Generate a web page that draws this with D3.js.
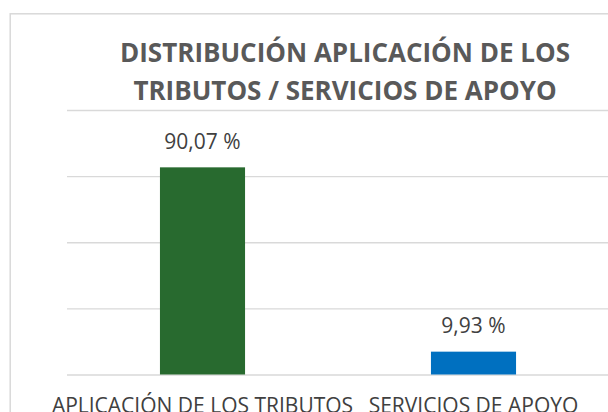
<!DOCTYPE html>
<html>
<head>
<meta charset="utf-8">
<script src="https://cdn.jsdelivr.net/npm/d3@7"></script>
<style>
  body { margin: 0; background: #fff; }
  svg { display: block; }
</style>
</head>
<body>
<div id="chart"></div>
<script>
// data
var categories = ["APLICACIÓN DE LOS TRIBUTOS", "SERVICIOS DE APOYO"];
var values = [90.07, 9.93];
var valueLabels = ["90,07 %", "9,93 %"];
var barColors = ["#286A2F", "#0070C0"];
var titleLines = ["DISTRIBUCIÓN APLICACIÓN DE LOS", "TRIBUTOS / SERVICIOS DE APOYO"];
var gridTicks = [0, 28.75, 57.5, 86.25, 115];

var width = 608,
	height = 412,
	plotLeft = 67,
	plotRight = 609,
	plotTop = 110,
	plotBottom = 374.5;

var svg = d3.select("#chart").append("svg")
	.attr("width", width)
	.attr("height", height);

// chart border (cropped at right and bottom)
svg.append("rect")
	.attr("x", 10.2)
	.attr("y", 13.8)
	.attr("width", 700)
	.attr("height", 500)
	.attr("fill", "#fff")
	.attr("stroke", "#d9d9d9")
	.attr("stroke-width", 1.5);

var xScale = d3.scaleBand()
	.domain(categories)
	.range([plotLeft, plotRight])
	.paddingInner(0.686)
	.paddingOuter(0.343);

var yScale = d3.scaleLinear()
	.domain([0, 115])
	.range([plotBottom, plotTop]);

// gridlines
var yAxis = d3.axisLeft(yScale)
	.tickValues(gridTicks)
	.tickSize(-(width - plotLeft))
	.tickFormat("");

svg.append("g")
	.attr("class", "grid")
	.attr("transform", `translate(${plotLeft},0)`)
	.call(yAxis)
	.call(function(g) {
		g.select(".domain").remove();
		g.selectAll("line").attr("stroke", "#d9d9d9").attr("stroke-width", 1.4);
	});

// title
svg.selectAll(".title")
	.data(titleLines)
	.enter()
	.append("text")
	.attr("class", "title")
	.attr("x", 345)
	.attr("y", function(d, i) { return 61.5 + i * 38.7; })
	.attr("text-anchor", "middle")
	.style("font-family", "'Open Sans', sans-serif")
	.style("font-weight", "bold")
	.style("font-size", "26px")
	.attr("fill", "#595959")
	.text(function(d) { return d; });

// bars
svg.selectAll(".bar")
	.data(values)
	.enter()
	.append("rect")
	.attr("class", "bar")
	.attr("x", function(d, i) { return xScale(categories[i]); })
	.attr("y", function(d) { return yScale(d); })
	.attr("width", xScale.bandwidth())
	.attr("height", function(d) { return plotBottom - yScale(d); })
	.attr("fill", function(d, i) { return barColors[i]; });

// value labels
svg.selectAll(".value_text")
	.data(values)
	.enter()
	.append("text")
	.attr("class", "value_text")
	.attr("x", function(d, i) { return xScale(categories[i]) + xScale.bandwidth() / 2; })
	.attr("y", function(d) { return yScale(d) - 18.6; })
	.attr("text-anchor", "middle")
	.style("font-family", "'Open Sans', sans-serif")
	.style("font-size", "21px")
	.attr("fill", "#404040")
	.text(function(d, i) { return valueLabels[i]; });

// category labels
svg.selectAll(".label_text")
	.data(categories)
	.enter()
	.append("text")
	.attr("class", "label_text")
	.attr("x", function(d) { return xScale(d) + xScale.bandwidth() / 2; })
	.attr("y", plotBottom + 38.8)
	.attr("text-anchor", "middle")
	.style("font-family", "'Open Sans', sans-serif")
	.style("font-size", "21px")
	.attr("fill", "#404040")
	.text(function(d) { return d; });
</script>
</body>
</html>
